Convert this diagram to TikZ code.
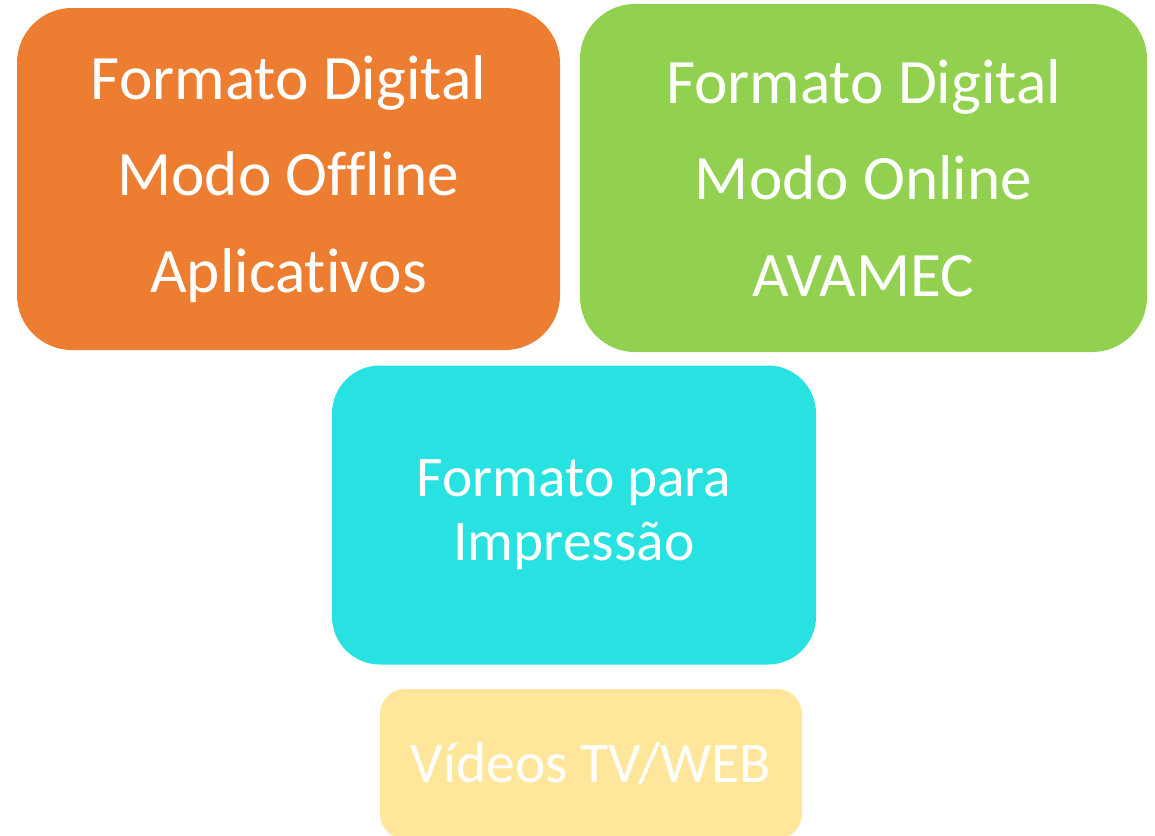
\documentclass[tikz,border=0pt]{standalone}
\usepackage{fontspec}
\setmainfont{Carlito}[Ligatures={NoCommon,NoRare}]

\definecolor{laranja}{HTML}{ED7D31}
\definecolor{verde}{HTML}{92D050}
\definecolor{ciano}{HTML}{28E2E2}
\definecolor{amarelo}{HTML}{FFE69A}

\begin{document}
\begin{tikzpicture}[x=0.02cm, y=-0.02cm,
  caixa/.style={rectangle, rounded corners=1.1cm, align=center, text=white, inner sep=0pt},
  grande/.style={font=\fontsize{36}{55}\selectfont},
  menor/.style={font=\fontsize{32.7}{36.4}\selectfont}]

% Fix the page to the size of the picture
\useasboundingbox (0,0) rectangle (1155,835);

% Two boxes on top
\node [caixa, grande, fill=laranja, minimum width=543*0.02cm, minimum height=342*0.02cm] (offline) at (288.5,179)
  {Formato Digital\\Modo Offline\\Aplicativos};
\node [caixa, grande, fill=verde, minimum width=567*0.02cm, minimum height=348*0.02cm] (online) at (863.5,178)
  {Formato Digital\\Modo Online\\AVAMEC};

% Print box in the middle
\node [caixa, menor, fill=ciano, rounded corners=0.96cm, minimum width=484*0.02cm, minimum height=299*0.02cm] (impressao) at (574,515)
  {Formato para\\Impressão};

% Video box, cut off by the page edge
\node [caixa, menor, fill=amarelo, rounded corners=0.5cm, minimum width=422*0.02cm, minimum height=150*0.02cm] (videos) at (591,764)
  {Vídeos TV/WEB};

\end{tikzpicture}
\end{document}
